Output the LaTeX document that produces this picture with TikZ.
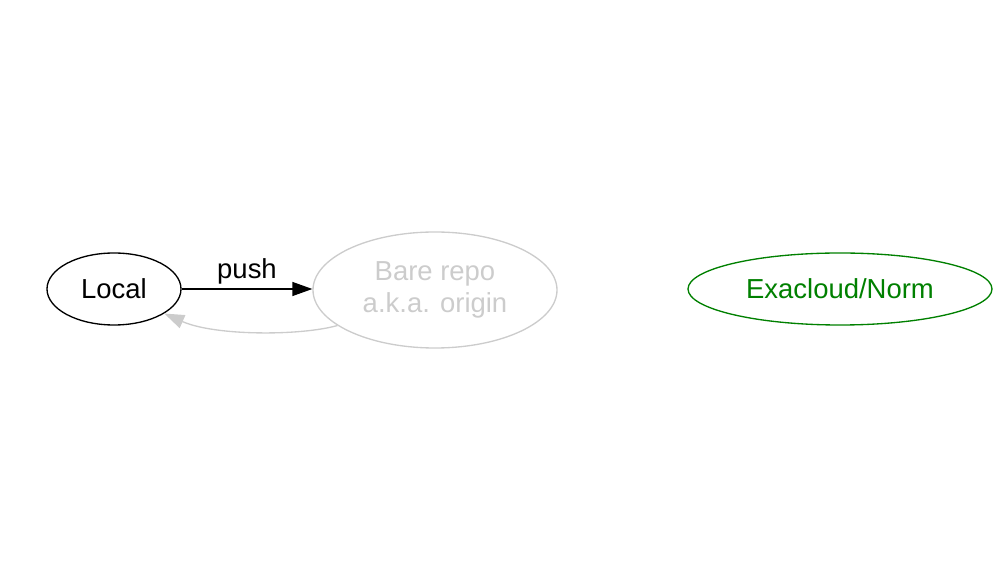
\documentclass[tikz,border=0pt]{standalone}
\usepackage{fontspec}
\setmainfont{Liberation Sans}
\usetikzlibrary{shapes.geometric,arrows.meta}
\definecolor{faded}{HTML}{CCCCCC}
\definecolor{cloudgreen}{HTML}{008000}

\begin{document}
\begin{tikzpicture}[x=0.75pt,y=-0.75pt,
		every node/.style={font=\fontsize{20.6}{24.5}\selectfont},
		repo/.style={ellipse,draw,line width=1pt,inner sep=0pt},
		flow/.style={line width=1pt,-{Triangle[length=15pt,width=10.5pt]}}]
			\useasboundingbox (0,0) rectangle (1000,580);
			\node[repo,minimum width=100.5pt,minimum height=54pt] (local) at (114,289) {Local};
			\node[repo,faded,text=faded,align=center,minimum width=183pt,minimum height=87pt] (bare) at (435,290) {Bare repo\\a.k.a. origin};
			\node[repo,cloudgreen,text=cloudgreen,minimum width=228pt,minimum height=54pt] (exa) at (840,289) {Exacloud/Norm};
			\draw[flow] (local) -- (local -| bare.west) node[midway,above] {push};
			\draw[flow,faded] (bare.200) .. controls (300,336) and (215,336) .. (local.334);
		\end{tikzpicture}
\end{document}
